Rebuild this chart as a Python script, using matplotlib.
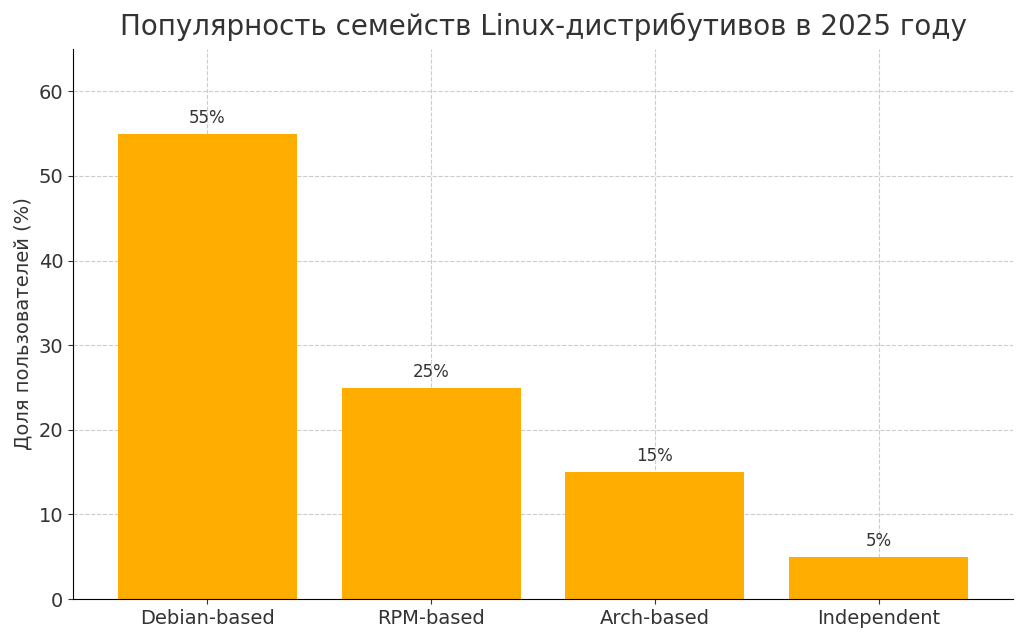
import matplotlib.pyplot as plt

categories = ["Debian-based", "RPM-based", "Arch-based", "Independent"]
shares = [55, 25, 15, 5]
labels = ["55%", "25%", "15%", "5%"]

fig = plt.figure(figsize=(10.24, 6.36), dpi=100)
ax = fig.add_axes([0.0713, 0.058, 0.918, 0.865])

bars = ax.bar(categories, shares, color="#FFAD00", width=0.8, zorder=2)
for b, lab in zip(bars, labels):
    ax.text(b.get_x() + b.get_width() / 2, b.get_height() + 0.8, lab,
            ha="center", va="bottom", fontsize=12, color="#333333")

ax.set_ylim(0, 65)
ax.set_xlim(-0.6, 3.6)
ax.set_title("Популярность семейств Linux-дистрибутивов в 2025 году",
             fontsize=20, color="#333333", pad=10)
ax.set_ylabel("Доля пользователей (%)", fontsize=14, color="#333333")
ax.tick_params(labelsize=14, colors="#333333")
ax.grid(True, linestyle="--", color="#cccccc", linewidth=0.8, zorder=0)
ax.spines["top"].set_visible(False)
ax.spines["right"].set_visible(False)

fig.savefig("out.png", dpi=100)
